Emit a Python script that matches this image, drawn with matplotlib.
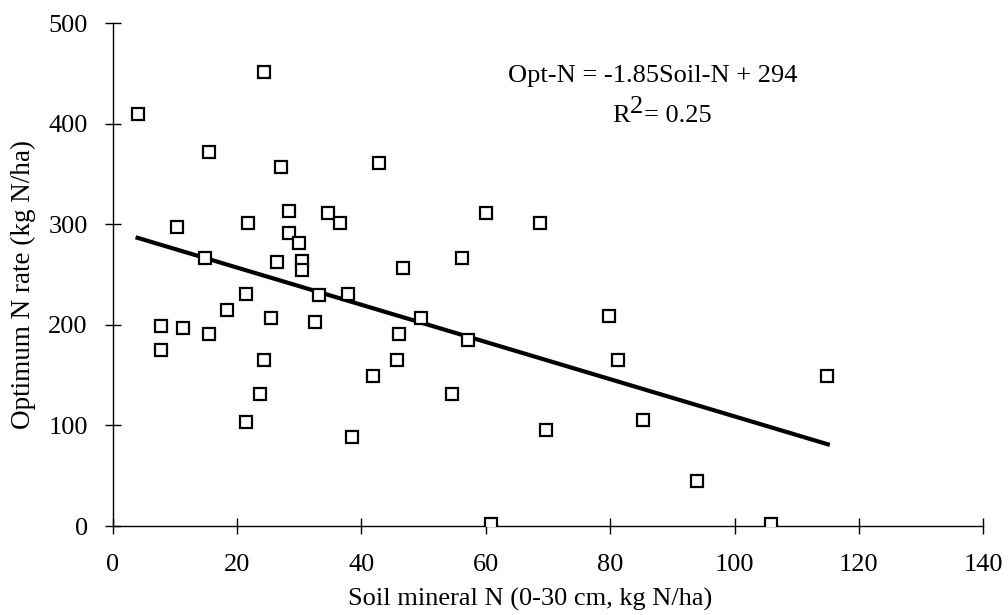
import matplotlib
matplotlib.use("Agg")
import matplotlib.pyplot as plt
import numpy as np

soil_n = [4.1, 24.4, 15.5, 27.0, 42.8, 10.3, 21.8, 28.4, 34.6, 36.5,
          28.4, 30.0, 14.9, 26.4, 30.5, 30.5, 46.7, 21.4, 18.4, 25.4,
          33.2, 37.8, 32.6, 7.7, 11.3, 15.5, 7.7, 24.4, 23.7, 21.4,
          38.5, 41.8, 46.0, 45.7, 60.1, 68.7, 56.2, 49.6, 57.1, 79.8,
          81.2, 54.6, 69.6, 85.3, 60.8, 114.9, 93.9, 105.8]
opt_n = [410, 452, 372, 357, 361, 297, 301, 313, 311, 301,
         291, 281, 267, 263, 264, 255, 257, 231, 215, 207,
         230, 231, 203, 199, 197, 191, 175, 165, 131, 103,
         89, 149, 191, 165, 311, 301, 267, 207, 185, 209,
         165, 131, 95, 105, 2, 149, 45, 2]

slope = -1.85
intercept = 294
fit_x = [4.0, 115.0]

plt.rcParams['font.family'] = ['Liberation Serif', 'DejaVu Serif']

W, H = 1008, 615
fig = plt.figure(figsize=(W / 100, H / 100), dpi=100)
ax = fig.add_axes([0.1118, 0.1447, 0.8637, 0.8175])

ax.plot(soil_n, opt_n, linestyle='none', marker='s', markersize=8.5,
        markerfacecolor='white', markeredgecolor='black', markeredgewidth=1.6, zorder=3)
fx = np.array(fit_x)
ax.plot(fx, slope * fx + intercept, color='black', linewidth=3.0, zorder=2)

ax.set_xlim(0, 140)
ax.set_ylim(0, 500)
ax.set_xticks(range(0, 141, 20))
ax.set_yticks(range(0, 501, 100))
for s in ['top', 'right']:
    ax.spines[s].set_visible(False)
for s in ['left', 'bottom']:
    ax.spines[s].set_linewidth(1.0)
ax.tick_params(axis='both', direction='inout', length=11, width=1.0,
               labelsize=19, colors='black')
ax.tick_params(axis='x', pad=15)
ax.tick_params(axis='y', pad=12.5)

ax.set_xlabel('Soil mineral N (0-30 cm, kg N/ha)', fontsize=19, va='center')
ax.xaxis.set_label_coords(0.48, -0.147)
ax.set_ylabel('Optimum N rate (kg N/ha)', fontsize=19.5, va='center')
ax.yaxis.set_label_coords(-0.102, 0.481)

fs = 19
fig.text(653 / W, 1 - 81.7 / H, 'Opt-N = -1.85Soil-N + 294', fontsize=fs,
         ha='center', va='baseline')
fig.canvas.draw()
renderer = fig.canvas.get_renderer()
t_r = fig.text(612 / W, 1 - 121.7 / H, 'R', fontsize=fs, ha='left', va='baseline')
x_after_r = t_r.get_window_extent(renderer).x1 + 0.5
t_2 = fig.text(x_after_r / W, 1 - 113.3 / H, '2', fontsize=fs, ha='left', va='baseline')
x_after_2 = t_2.get_window_extent(renderer).x1 + 0.5
fig.text(x_after_2 / W, 1 - 121.7 / H, '= 0.25', fontsize=fs, ha='left', va='baseline')

fig.savefig('out.png', dpi=100)
